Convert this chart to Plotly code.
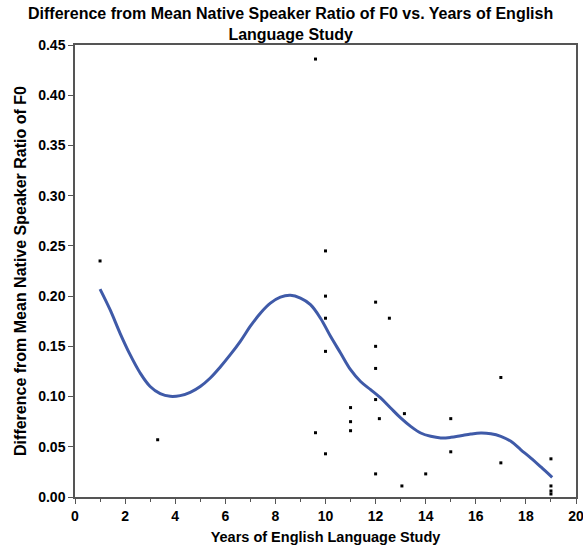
import plotly.graph_objects as go

# Observed points: years of study vs. difference from native-speaker F0 ratio
years = [1.0, 3.3, 9.6, 9.6, 10.0, 10.0, 10.0, 10.0, 10.0, 11.0, 11.0, 11.0,
         12.0, 12.0, 12.0, 12.0, 12.15, 12.0, 12.55, 13.15, 13.05, 14.0,
         15.0, 15.0, 17.0, 17.0, 19.0, 19.0, 19.0, 19.0]
diff_f0 = [0.235, 0.057, 0.436, 0.064, 0.245, 0.200, 0.178, 0.145, 0.043,
           0.089, 0.075, 0.066, 0.194, 0.150, 0.128, 0.097, 0.078, 0.023,
           0.178, 0.083, 0.011, 0.023, 0.078, 0.045, 0.119, 0.034, 0.038,
           0.011, 0.006, 0.003]

# Smoothed fit curve
fit_x = [1.0, 1.4, 1.8, 2.2, 2.6, 3.0, 3.4, 3.8, 4.2, 4.6, 5.0, 5.4, 5.8,
         6.2, 6.6, 7.0, 7.4, 7.8, 8.2, 8.6, 9.0, 9.4, 9.8, 10.2, 10.6, 11.0,
         11.4, 11.8, 12.2, 12.6, 13.0, 13.4, 13.8, 14.2, 14.6, 15.0, 15.4,
         15.8, 16.2, 16.6, 17.0, 17.4, 17.8, 18.2, 18.6, 19.05]
fit_y = [0.207, 0.1865, 0.163, 0.1417, 0.1235, 0.110, 0.1029, 0.1002,
         0.1009, 0.1042, 0.110, 0.1185, 0.1295, 0.1417, 0.155, 0.170, 0.183,
         0.193, 0.199, 0.2008, 0.198, 0.1915, 0.178, 0.160, 0.1434, 0.1268,
         0.115, 0.1069, 0.0986, 0.0886, 0.0787, 0.0703, 0.0637, 0.0604,
         0.0588, 0.0594, 0.061, 0.0627, 0.0637, 0.063, 0.0604, 0.0554, 0.047,
         0.0388, 0.0299, 0.0195]

x_ticks = list(range(0, 21, 2))
y_ticks = [0.00, 0.05, 0.10, 0.15, 0.20, 0.25, 0.30, 0.35, 0.40, 0.45]

chart_title = "Difference from Mean Native Speaker Ratio of F0 vs. Years of English<br>Language Study"

FONT = "Liberation Sans, Arial, sans-serif"
AXIS_COLOR = "#555555"

fig = go.Figure()
fig.add_trace(go.Scatter(
    x=fit_x, y=fit_y, mode="lines", line_shape="spline",
    line=dict(color="#3f5aa8", width=3), hoverinfo="skip", showlegend=False,
))
fig.add_trace(go.Scatter(
    x=years, y=diff_f0, mode="markers",
    marker=dict(symbol="square", size=3, color="black"), showlegend=False,
))

axis_common = dict(
    showline=True, linecolor=AXIS_COLOR, linewidth=1.5, mirror=True,
    ticks="outside", tickcolor=AXIS_COLOR, ticklen=5, tickwidth=1.2,
    showgrid=False, zeroline=False, automargin=False,
    ticklabeloverflow="allow",
    tickfont=dict(family=FONT, size=14, color="black", weight="bold"),
)

fig.update_layout(
    width=583, height=550,
    margin=dict(l=75, r=7, t=45, b=53),
    paper_bgcolor="white", plot_bgcolor="white",
    xaxis=dict(
        range=[0, 20], tickvals=x_ticks,
        minor=dict(ticks="outside", dtick=1, ticklen=3, tickcolor=AXIS_COLOR),
        title=dict(text="Years of English Language Study", standoff=9,
                   font=dict(family=FONT, size=14.5, color="black", weight="bold")),
        **axis_common,
    ),
    yaxis=dict(
        range=[0, 0.45], tickvals=y_ticks, tickformat=".2f",
        title=dict(text="Difference from Mean Native Speaker Ratio of F0", standoff=8,
                   font=dict(family=FONT, size=16, color="black", weight="bold")),
        **axis_common,
    ),
    annotations=[dict(
        text=chart_title, xref="paper", yref="paper", x=0.43, y=1,
        xanchor="center", yanchor="bottom", yshift=0, showarrow=False,
        font=dict(family=FONT, size=16, color="black", weight="bold"),
    )],
)

fig.write_html("out.html")
